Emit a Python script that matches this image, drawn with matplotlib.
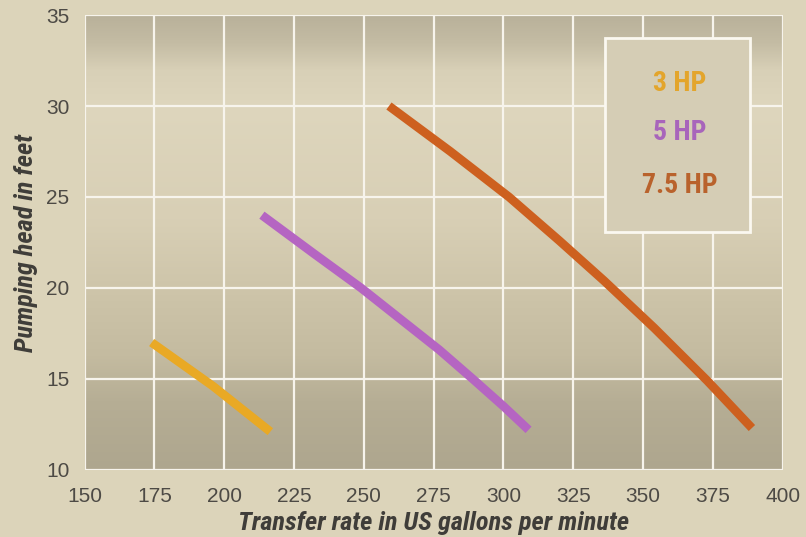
import numpy as np
import matplotlib
matplotlib.use("Agg")
import matplotlib.pyplot as plt
from matplotlib.colors import to_rgb
from matplotlib.patches import Rectangle
from matplotlib import font_manager as fm

# ---- data ----
hp3_x = [174, 196, 216.5]
hp3_y = [17.0, 14.6, 12.1]
hp5_x = [213.5, 232, 249, 263, 277, 289, 300, 309]
hp5_y = [24.0, 21.9, 20.0, 18.3, 16.6, 15.0, 13.5, 12.2]
hp75_x = [259, 281, 302, 320, 336, 354, 373, 389]
hp75_y = [30.0, 27.5, 25.0, 22.6, 20.4, 17.8, 14.9, 12.3]
series_labels = ["3 HP", "5 HP", "7.5 HP"]
x_ticks = [150, 175, 200, 225, 250, 275, 300, 325, 350, 375, 400]
y_ticks = [10, 15, 20, 25, 30, 35]

line_colors = ["#e9a925", "#b565c2", "#cd601f"]
text_colors = ["#e3a52c", "#a865bb", "#b9622c"]

available = {f.name for f in fm.fontManager.ttflist}
narrow = [n for n in ["Roboto Condensed", "Liberation Sans Narrow",
                      "DejaVu Sans Condensed"] if n in available]
BASE = ["Liberation Sans", "DejaVu Sans"]
NARROW = narrow + BASE
plt.rcParams["font.family"] = BASE

fig = plt.figure(figsize=(8.06, 5.37), dpi=100)
fig.patch.set_facecolor("#dcd4ba")
ax = fig.add_axes([0.105, 0.125, 0.866, 0.847])

# decorative background gradient of the plot area (top -> bottom)
stops_pos = [0.0, 0.06, 0.12, 0.20, 0.45, 0.60, 0.75, 0.85, 1.0]
stops_col = ["#b9b19a", "#c4bca4", "#d8d0b7", "#ded6bd", "#d8cfb5",
             "#cec5aa", "#c4bba0", "#b6ae95", "#aea68e"]
t = np.linspace(0, 1, 300)
rgb = np.array([to_rgb(c) for c in stops_col])
grad = np.stack([np.interp(t, stops_pos, rgb[:, k]) for k in range(3)], axis=-1)
img = np.repeat(grad[:, None, :], 2, axis=1)
ax.imshow(img, extent=[150, 400, 10, 35], aspect="auto", origin="upper",
          zorder=0, interpolation="bilinear")

ax.set_xlim(150, 400)
ax.set_ylim(10, 35)
ax.set_xticks(x_ticks)
ax.set_yticks(y_ticks)
ax.grid(True, color="#f7f4ec", linewidth=1.6, zorder=1)
ax.set_axisbelow(False)
for s in ax.spines.values():
    s.set_visible(False)
ax.tick_params(length=0, labelsize=15, colors="#4d4a45")
ax.tick_params(axis="x", pad=12)
ax.tick_params(axis="y", pad=11)

for xs, ys, c in zip([hp3_x, hp5_x, hp75_x], [hp3_y, hp5_y, hp75_y], line_colors):
    ax.plot(xs, ys, color=c, linewidth=6.3, solid_capstyle="butt",
            solid_joinstyle="round", zorder=3)

lab_size = 19 if narrow else 15.5
ax.set_xlabel("Transfer rate in US gallons per minute", fontsize=lab_size,
              fontweight="bold", fontstyle="italic", color="#3f3d39",
              labelpad=4, family=NARROW)
ax.set_ylabel("Pumping head in feet", fontsize=lab_size, fontweight="bold",
              fontstyle="italic", color="#3f3d39", labelpad=6, family=NARROW)

# legend box
ax.add_patch(Rectangle((0.745, 0.524), 0.208, 0.425, transform=ax.transAxes,
                       facecolor="#d5cdb5", edgecolor="#fbf8f0", linewidth=2,
                       zorder=4))
for lab, c, yy in zip(series_labels, text_colors, [0.850, 0.741, 0.626]):
    ax.text(0.852, yy, lab, transform=ax.transAxes, ha="center", va="center",
            fontsize=20 if narrow else 17, fontweight="bold", color=c,
            zorder=5, family=NARROW)

fig.savefig("out.png", dpi=100, facecolor=fig.get_facecolor())
